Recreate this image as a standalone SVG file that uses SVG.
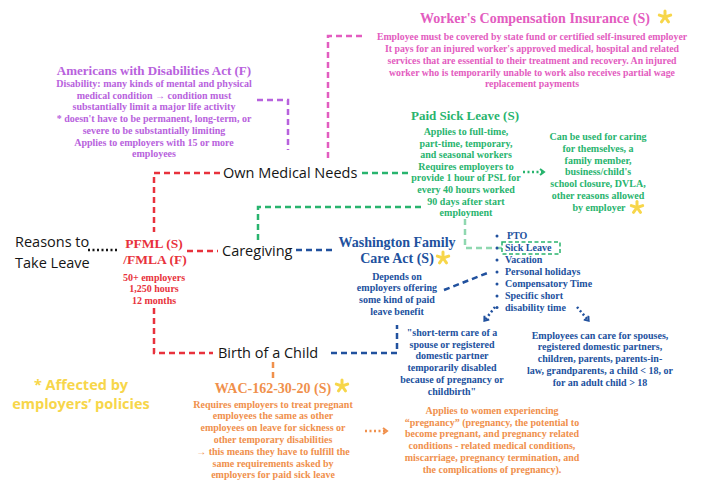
<svg xmlns="http://www.w3.org/2000/svg" width="701" height="483" viewBox="0 0 701 483">
<defs>
<style>
.b{font-family:"Liberation Serif","DejaVu Serif",serif;font-weight:bold;font-size:10px;text-anchor:middle}
.w{font-size:9.8px}
.t{font-family:"Liberation Serif","DejaVu Serif",serif;font-weight:bold;text-anchor:middle}
.k{font-family:"Open Sans","Liberation Sans",sans-serif;font-size:14.5px;fill:#151515}
.pink{fill:#e35cc0}.purple{fill:#b862dd}.green{fill:#28b46e}.red{fill:#e8323c}.blue{fill:#21519e}.orange{fill:#f0904c}
.dash{fill:none;stroke-width:2.5;stroke-dasharray:6 4}
.dot{fill:none;stroke-width:2.5;stroke-dasharray:2 2.5}
</style>
<g id="star">
<g stroke="#f7d64a" stroke-width="3" stroke-linecap="round">
<line x1="0" y1="0" x2="0" y2="-6"/>
<line x1="0" y1="0" x2="5.7" y2="-1.9"/>
<line x1="0" y1="0" x2="3.5" y2="4.9"/>
<line x1="0" y1="0" x2="-3.5" y2="4.9"/>
<line x1="0" y1="0" x2="-5.7" y2="-1.9"/>
</g>
</g>
<marker id="ag" markerWidth="8" markerHeight="8" refX="4" refY="4" orient="auto" markerUnits="userSpaceOnUse"><path d="M1,1 L5,4 L1,7" fill="none" stroke="#28b46e" stroke-width="2"/></marker>
<marker id="ab" markerWidth="8" markerHeight="8" refX="4" refY="4" orient="auto" markerUnits="userSpaceOnUse"><path d="M1,1 L5,4 L1,7" fill="none" stroke="#21519e" stroke-width="2"/></marker>
<marker id="ao" markerWidth="8" markerHeight="8" refX="4" refY="4" orient="auto" markerUnits="userSpaceOnUse"><path d="M1,1 L5,4 L1,7" fill="none" stroke="#f0904c" stroke-width="2"/></marker>
</defs>
<rect width="701" height="483" fill="#ffffff"/>

<g id="connectors">
<path class="dash" stroke="#e8323c" d="M220,173 H154 V232"/>
<path class="dash" stroke="#e8323c" d="M187,251 H218"/>
<path class="dash" stroke="#e8323c" d="M154,308 V353 H213"/>
<path class="dot" stroke="#151515" stroke-width="2" stroke-dasharray="1.5 2.6" d="M88,250 H119"/>
<path class="dash" stroke="#28b46e" stroke-width="2" d="M362,173 H408"/>
<path class="dash" stroke="#28b46e" stroke-width="2" d="M258,240 V207 H422"/>
<path class="dash" stroke="#8fd8b0" stroke-width="1.8" d="M465,219 V248 H502"/>
<rect x="502" y="242" width="58" height="12" fill="none" stroke="#28b46e" stroke-width="1.5" stroke-dasharray="4 2.5"/>
<path class="dot" stroke="#28b46e" d="M523,172 H543" marker-end="url(#ag)"/>
<path class="dash" stroke="#e35cc0" d="M362,36 H328 V160"/>
<path class="dash" stroke="#b862dd" d="M257,100 H288 V150"/>
<path class="dash" stroke="#21519e" d="M296,250 H334"/>
<path class="dash" stroke="#21519e" d="M331,353 H397 V325"/>
<path class="dash" stroke="#21519e" d="M444,290 L490,272"/>
<path class="dot" stroke="#21519e" d="M495,307 L485,320" marker-end="url(#ab)"/>
<path class="dot" stroke="#21519e" d="M577,307 L588,320" marker-end="url(#ab)"/>
<path class="dash" stroke="#f0904c" d="M273,362 V378"/>
<path class="dot" stroke="#f0904c" d="M365,431 H386" marker-end="url(#ao)"/>
</g>

<g id="reasons">
<text class="k" x="15" y="247">Reasons to</text>
<text class="k" x="15" y="268">Take Leave</text>
</g>

<g id="pfml">
<text class="t red" font-size="13.5" x="154" y="247.5">PFML (S)</text>
<text class="t red" font-size="13.5" x="155" y="263.5">/FMLA (F)</text>
<text class="b red" x="154" y="280.6">50+ employers</text>
<text class="b red" x="154" y="292.3">1,250 hours</text>
<text class="b red" x="154" y="304">12 months</text>
</g>

<g id="own-medical-needs"><text class="k" x="223" y="178">Own Medical Needs</text></g>
<g id="caregiving"><text class="k" x="222" y="256">Caregiving</text></g>
<g id="birth-of-a-child"><text class="k" x="218" y="358">Birth of a Child</text></g>

<g id="workers-comp">
<text class="t pink" font-size="14" x="535" y="23">Worker's Compensation Insurance (S)</text>
<use href="#star" x="665" y="17"/>
<text class="b w pink" x="532" y="39.5">Employee must be covered by state fund or certified self-insured employer</text>
<text class="b w pink" x="532" y="51.5">It pays for an injured worker's approved medical, hospital and related</text>
<text class="b w pink" x="532" y="63.5">services that are essential to their treatment and recovery. An injured</text>
<text class="b w pink" x="532" y="75.5">worker who is temporarily unable to work also receives partial wage</text>
<text class="b w pink" x="532" y="87">replacement payments</text>
</g>

<g id="ada">
<text class="t purple" font-size="13" x="154" y="74.5">Americans with Disabilities Act (F)</text>
<text class="b purple" x="154" y="87">Disability: many kinds of mental and physical</text>
<text class="b purple" x="154" y="98.7">medical condition → condition must</text>
<text class="b purple" x="154" y="110.4">substantially limit a major life activity</text>
<text class="b purple" x="154" y="122.1">* doesn't have to be permanent, long-term, or</text>
<text class="b purple" x="154" y="133.8">severe to be substantially limiting</text>
<text class="b purple" x="154" y="145.5">Applies to employers with 15 or more</text>
<text class="b purple" x="154" y="157.2">employees</text>
</g>

<g id="paid-sick-leave">
<text class="t green" font-size="13" x="465" y="119.5">Paid Sick Leave (S)</text>
<text class="b green" x="466" y="135">Applies to full-time,</text>
<text class="b green" x="466" y="146.6">part-time, temporary,</text>
<text class="b green" x="466" y="158.2">and seasonal workers</text>
<text class="b green" x="466" y="169.8">Requires employers to</text>
<text class="b green" x="466" y="181.4">provide 1 hour of PSL for</text>
<text class="b green" x="466" y="193">every 40 hours worked</text>
<text class="b green" x="466" y="204.6">90 days after start</text>
<text class="b green" x="466" y="216.2">employment</text>
</g>

<g id="sick-leave-uses">
<text class="b green" x="598" y="140">Can be used for caring</text>
<text class="b green" x="598" y="151.8">for themselves, a</text>
<text class="b green" x="598" y="163.6">family member,</text>
<text class="b green" x="598" y="175.4">business/child's</text>
<text class="b green" x="598" y="187.2">school closure, DVLA,</text>
<text class="b green" x="598" y="199">other reasons allowed</text>
<text class="b green" x="599" y="210.8">by employer</text>
<use href="#star" x="637" y="207.5"/>
</g>

<g id="wfca">
<text class="t blue" font-size="14" x="397" y="246.5">Washington Family</text>
<text class="t blue" font-size="14" x="397" y="262.5">Care Act (S)</text>
<use href="#star" x="443" y="258"/>
<text class="b blue" x="397" y="279.5">Depends on</text>
<text class="b blue" x="397" y="291.3">employers offering</text>
<text class="b blue" x="397" y="303">some kind of paid</text>
<text class="b blue" x="397" y="314.7">leave benefit</text>
</g>

<g id="leave-types">
<g class="blue">
<circle cx="497" cy="236" r="1.5"/><circle cx="497" cy="248" r="1.5"/><circle cx="497" cy="260" r="1.5"/><circle cx="497" cy="272" r="1.5"/><circle cx="497" cy="284" r="1.5"/><circle cx="497" cy="296" r="1.5"/><circle cx="497" cy="307.5" r="1.5"/>
</g>
<text class="b blue" style="text-anchor:start" x="507" y="239.3">PTO</text>
<text class="b blue" style="text-anchor:start" x="505" y="251.3">Sick Leave</text>
<text class="b blue" style="text-anchor:start" x="505" y="263.3">Vacation</text>
<text class="b blue" style="text-anchor:start" x="505" y="275.3">Personal holidays</text>
<text class="b blue" style="text-anchor:start" x="505" y="287.3">Compensatory Time</text>
<text class="b blue" style="text-anchor:start" x="505" y="299.3">Specific short</text>
<text class="b blue" style="text-anchor:start" x="505" y="310.8">disability time</text>
</g>

<g id="short-term-care">
<text class="b blue" x="452" y="336">"short-term care of a</text>
<text class="b blue" x="452" y="347.7">spouse or registered</text>
<text class="b blue" x="452" y="359.4">domestic partner</text>
<text class="b blue" x="452" y="371.1">temporarily disabled</text>
<text class="b blue" x="452" y="382.8">because of pregnancy or</text>
<text class="b blue" x="452" y="394.5">childbirth"</text>
</g>

<g id="family-members">
<text class="b blue" x="600" y="338.5">Employees can care for spouses,</text>
<text class="b blue" x="600" y="350.3">registered domestic partners,</text>
<text class="b blue" x="600" y="362.1">children, parents, parents-in-</text>
<text class="b blue" x="600" y="373.9">law, grandparents, a child &lt; 18, or</text>
<text class="b blue" x="600" y="385.7">for an adult child &gt; 18</text>
</g>

<g id="wac">
<text class="t orange" font-size="14" x="273" y="392.5">WAC-162-30-20 (S)</text>
<use href="#star" x="342" y="386"/>
<text class="b orange" x="273" y="407.5">Requires employers to treat pregnant</text>
<text class="b orange" x="273" y="419.3">employees the same as other</text>
<text class="b orange" x="273" y="431.1">employees on leave for sickness or</text>
<text class="b orange" x="273" y="442.9">other temporary disabilities</text>
<text class="b orange" x="273" y="454.7">→ this means they have to fulfill the</text>
<text class="b orange" x="273" y="466.5">same requirements asked by</text>
<text class="b orange" x="273" y="478.3">employers for paid sick leave</text>
</g>

<g id="pregnancy-definition">
<text class="b orange" x="492" y="414">Applies to women experiencing</text>
<text class="b orange" x="492" y="425.7">“pregnancy” (pregnancy, the potential to</text>
<text class="b orange" x="492" y="437.4">become pregnant, and pregnancy related</text>
<text class="b orange" x="492" y="449.1">conditions - related medical conditions,</text>
<text class="b orange" x="492" y="460.8">miscarriage, pregnancy termination, and</text>
<text class="b orange" x="492" y="472.5">the complications of pregnancy).</text>
</g>

<g id="legend">
<text font-family="'Open Sans','Liberation Sans',sans-serif" font-weight="bold" font-size="14.5" fill="#f7d64a" text-anchor="middle" x="81" y="389.5">* Affected by</text>
<text font-family="'Open Sans','Liberation Sans',sans-serif" font-weight="bold" font-size="14.5" fill="#f7d64a" text-anchor="middle" x="81" y="408.5">employers’ policies</text>
</g>
</svg>
